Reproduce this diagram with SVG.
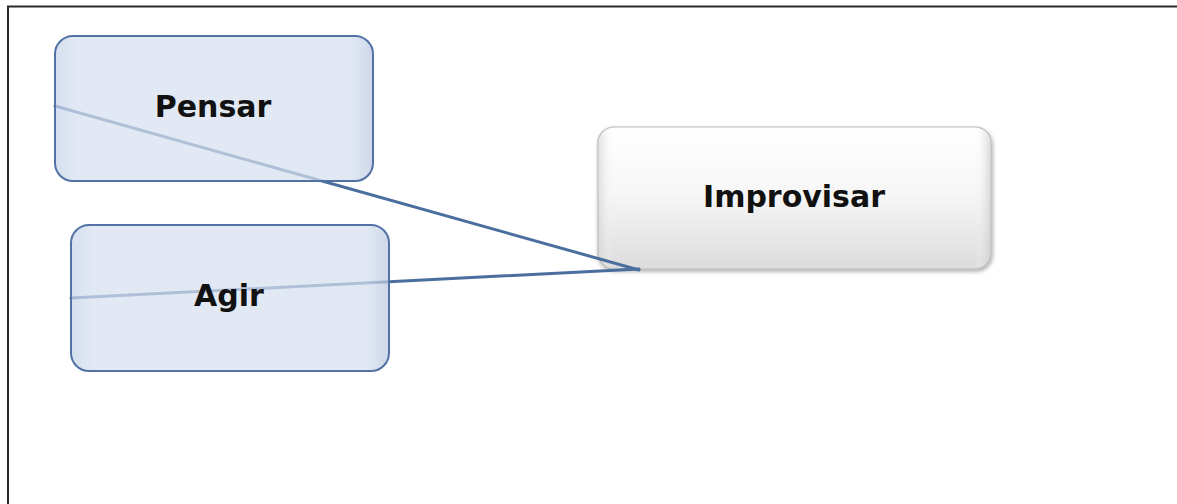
<svg xmlns="http://www.w3.org/2000/svg" width="1177" height="504" viewBox="0 0 1177 504">
  <defs>
    <linearGradient id="blueFill" x1="0" y1="0" x2="1" y2="0">
      <stop offset="0" stop-color="#c6d3e9"/>
      <stop offset="0.07" stop-color="#d6e0ef"/>
      <stop offset="0.93" stop-color="#d6e0ef"/>
      <stop offset="1" stop-color="#b9c8e0"/>
    </linearGradient>
    <linearGradient id="greyFill" x1="0" y1="0" x2="0" y2="1">
      <stop offset="0" stop-color="#ffffff"/>
      <stop offset="0.45" stop-color="#f7f7f7"/>
      <stop offset="1" stop-color="#dcdcdc"/>
    </linearGradient>
    <linearGradient id="greySides" x1="0" y1="0" x2="1" y2="0">
      <stop offset="0" stop-color="#d0d0d0" stop-opacity="0.6"/>
      <stop offset="0.04" stop-color="#ffffff" stop-opacity="0"/>
      <stop offset="0.96" stop-color="#ffffff" stop-opacity="0"/>
      <stop offset="1" stop-color="#c8c8c8" stop-opacity="0.6"/>
    </linearGradient>
    <filter id="shadow" x="-10%" y="-10%" width="120%" height="130%">
      <feGaussianBlur in="SourceAlpha" stdDeviation="2"/>
      <feOffset dx="1" dy="2" result="b"/>
      <feComponentTransfer><feFuncA type="linear" slope="0.35"/></feComponentTransfer>
      <feMerge><feMergeNode/><feMergeNode in="SourceGraphic"/></feMerge>
    </filter>
  </defs>
  <style>
    .frame { fill: none; stroke: #2a2a2a; stroke-width: 2; }
    .link { fill: none; stroke: #4a6e9e; stroke-width: 3; stroke-linecap: round; }
    .blue { fill: url(#blueFill); fill-opacity: 0.72; stroke: #5272a6; stroke-width: 2; }
    .grey { fill: url(#greyFill); stroke: #b8b8b8; stroke-width: 1.2; }
    .sides { fill: url(#greySides); stroke: none; }
    .label { font-family: "DejaVu Sans", Verdana, sans-serif; font-weight: bold; font-size: 30px; fill: #111; text-anchor: middle; }
  </style>

  <!-- page border (top and left edges only) -->
  <path class="frame" d="M8 504 V6.5 H1177"/>

  <g id="node-improvisar">
    <rect class="grey" x="598" y="127" width="393" height="142" rx="16" filter="url(#shadow)"/>
    <rect class="sides" x="599" y="128" width="391" height="140" rx="15"/>
    <text class="label" x="794" y="207">Improvisar</text>
  </g>

  <!-- connectors -->
  <g id="connectors">
    <line class="link" x1="55" y1="106" x2="639" y2="270"/>
    <line class="link" x1="71" y1="298" x2="639" y2="269"/>
  </g>

  <g id="node-pensar">
    <rect class="blue" x="55" y="36" width="318" height="145" rx="18"/>
    <text class="label" x="213" y="117">Pensar</text>
  </g>

  <g id="node-agir">
    <rect class="blue" x="71" y="225" width="318" height="146" rx="18"/>
    <text class="label" x="229" y="306">Agir</text>
  </g>
</svg>
